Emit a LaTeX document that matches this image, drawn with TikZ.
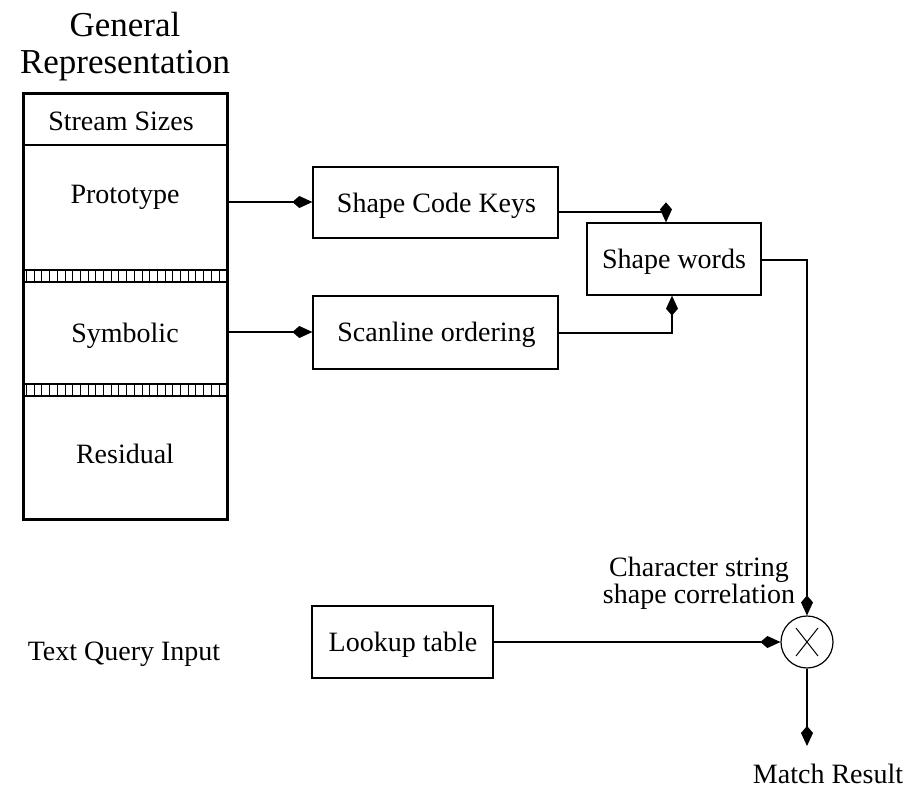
\documentclass[tikz,border=0pt]{standalone}
\usepackage{fontspec}
\setmainfont{Liberation Serif}
\usetikzlibrary{arrows.meta,calc}
\begin{document}
\begin{tikzpicture}[x=1pt,y=-1pt,
  lbl/.style={font=\fontsize{28}{27}\selectfont, inner sep=0pt, anchor=base},
  boxn/.style={draw, line width=1.3pt, inner sep=0pt},
  conn/.style={line width=1.2pt, -{Kite[length=20pt,width=12pt,inset=7pt]}}]
\useasboundingbox (0,0) rectangle (912,789);
% title
\node[font=\fontsize{35}{38}\selectfont, inner sep=0pt, anchor=base] (t1) at (125,37) {General};
\node[font=\fontsize{35}{38}\selectfont, inner sep=0pt, anchor=base] (t2) at (125,74) {Representation};
% general representation column
\draw[line width=3pt] (23,94) rectangle (227,519);
\node[lbl] (ss) at (121,130) {Stream Sizes};
\draw[line width=2pt] (23,145) -- (227,145);
\foreach \ya/\yb in {270/282, 384/396}{
  \draw[line width=1.3pt] (23,\ya) -- (227,\ya);
  \draw[line width=1.3pt] (23,\yb) -- (227,\yb);
  \foreach \xx in {26.5,34.2,...,226}{
    \draw[line width=0.9pt] (\xx,\ya) -- (\xx,\yb);
  }
}
\node[lbl] (proto) at (125,203) {Prototype};
\node[lbl] (symb) at (125,342) {Symbolic};
\node[lbl] (resid) at (125,463) {Residual};
\coordinate (protoR) at (227,202);
\coordinate (symbR) at (227,332);
% boxes
\node[boxn, minimum width=245pt, minimum height=71pt] (sck) at (435.5,202.5) {};
\node[lbl] (sckt) at (436.5,212) {Shape Code Keys};
\node[boxn, minimum width=245pt, minimum height=73pt] (scan) at (435.5,332.5) {};
\node[lbl] (scant) at (436.5,341) {Scanline ordering};
\node[boxn, minimum width=174pt, minimum height=72pt] (sw) at (674,259) {};
\node[lbl] (swt) at (674,268) {Shape words};
\node[boxn, minimum width=181pt, minimum height=72pt] (look) at (402.5,642) {};
\node[lbl] (lookt) at (403,651) {Lookup table};
\node[draw, circle, line width=1.2pt, minimum size=52pt, inner sep=0pt] (mult) at (807,642) {};
\draw[line width=1pt] ($(mult.center)+(-11,-14)$) -- ($(mult.center)+(11,14)$);
\draw[line width=1pt] ($(mult.center)+(-11,14)$) -- ($(mult.center)+(11,-14)$);
% labels
\node[lbl] (csc1) at (699,576) {Character string};
\node[lbl] (csc2) at (699,603) {shape correlation};
\node[lbl] (tqi) at (124,660) {Text Query Input};
\node[lbl] (match) at (828,783) {Match Result};
\coordinate (mend) at (807,746);
% connectors
\draw[conn] (protoR) -- (protoR -| sck.west);
\draw[conn] (symbR) -- (symbR -| scan.west);
\draw[conn] ([yshift=-9.5pt]sck.east) -| ([xshift=-8pt]sw.north);
\draw[conn] ([yshift=-0.5pt]scan.east) -| ([xshift=-2pt]sw.south);
\draw[conn] ([yshift=-1pt]sw.east) -| (mult.north);
\draw[conn] (look.east |- mult.west) -- (mult.west);
\draw[conn] (mult.south) -- (mend);
\end{tikzpicture}
\end{document}
